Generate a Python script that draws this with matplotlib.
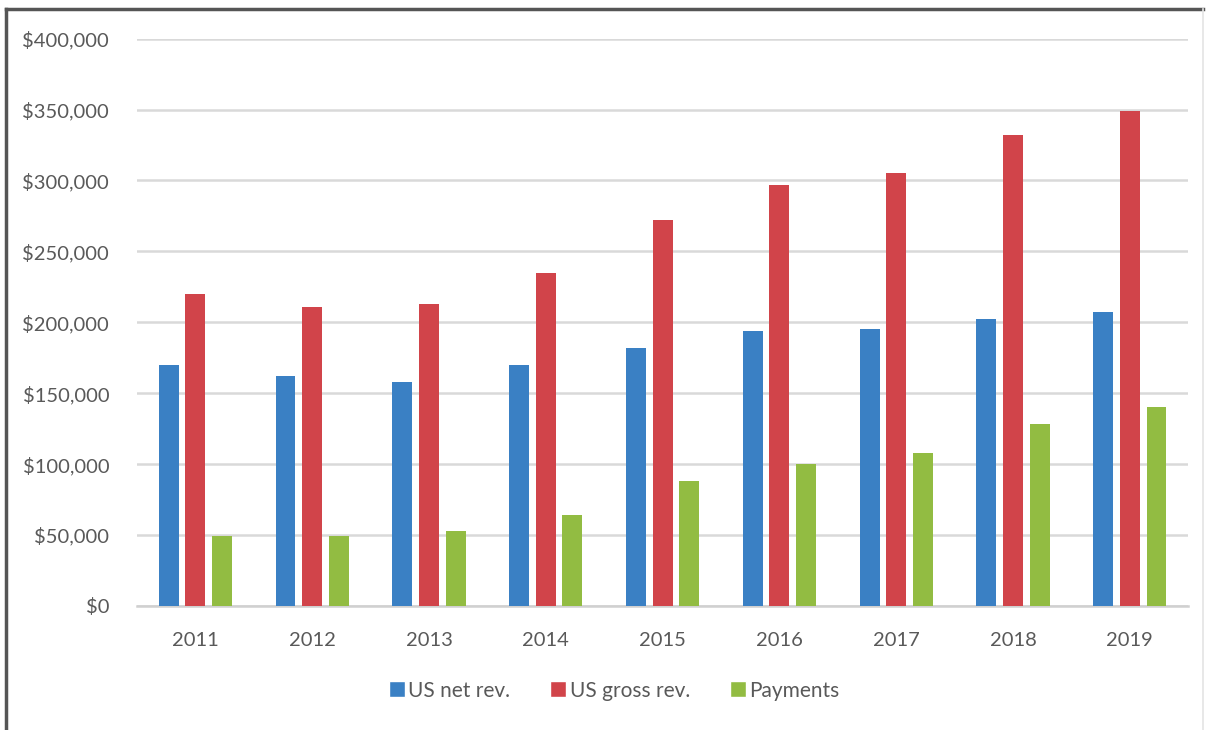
import matplotlib.pyplot as plt
from matplotlib.ticker import FuncFormatter, MultipleLocator
from matplotlib.lines import Line2D
import numpy as np

years = ["2011", "2012", "2013", "2014", "2015", "2016", "2017", "2018", "2019"]
us_net_rev = [170000, 162000, 158000, 170000, 182000, 194000, 195000, 202000, 207000]
us_gross_rev = [220000, 211000, 213000, 235000, 272000, 297000, 305000, 332000, 349000]
payments = [49000, 49000, 53000, 64000, 88000, 100000, 108000, 128000, 140000]

series_names = ["US net rev.", "US gross rev.", "Payments"]
colors = ["#3A80C4", "#D1444A", "#92BC42"]

plt.rcParams["font.family"] = ["Lato", "DejaVu Sans"]
text_color = "#595959"

fig = plt.figure(figsize=(12.14, 7.30), dpi=100)
ax = fig.add_axes([0.1128, 0.170, 0.866, 0.777])

x = np.arange(len(years))
width = 0.17
offset = 0.228
for i, (vals, name, c) in enumerate(zip([us_net_rev, us_gross_rev, payments], series_names, colors)):
    ax.bar(x + (i - 1) * offset, vals, width, color=c, label=name, zorder=3)

ax.set_xlim(-0.5, len(years) - 0.5)
ax.set_ylim(0, 400000)
ax.yaxis.set_major_locator(MultipleLocator(50000))
ax.yaxis.set_major_formatter(FuncFormatter(lambda v, p: f"${v:,.0f}"))
ax.set_xticks(x)
ax.set_xticklabels(years)

ax.grid(axis="y", color="#D9D9D9", linewidth=1.8, zorder=0)
for s in ["top", "right", "left"]:
    ax.spines[s].set_visible(False)
ax.spines["bottom"].set_color("#D0D0D0")
ax.spines["bottom"].set_linewidth(1.8)
ax.tick_params(axis="both", length=0, labelsize=14.5, colors=text_color)
ax.tick_params(axis="y", pad=20)
ax.tick_params(axis="x", pad=19)

handles = [Line2D([0], [0], marker="s", color="w", markerfacecolor=c, markersize=11, linestyle="")
           for c in colors]
leg = fig.legend(handles, series_names, loc="center", bbox_to_anchor=(0.505, 0.054), ncol=3,
                 frameon=False, fontsize=15, handletextpad=0.05, columnspacing=1.8,
                 handlelength=1.0)
for t in leg.get_texts():
    t.set_color(text_color)

# chart frame
fig.add_artist(Line2D([0.005, 0.005], [0.0, 0.988], transform=fig.transFigure, color="#555555", linewidth=2.5))
fig.add_artist(Line2D([0.005, 0.991], [0.988, 0.988], transform=fig.transFigure, color="#555555", linewidth=2.5))
fig.add_artist(Line2D([0.991, 0.991], [0.0, 0.988], transform=fig.transFigure, color="#E4E4E4", linewidth=1.2))

fig.savefig("out.png", dpi=100, facecolor="white")
